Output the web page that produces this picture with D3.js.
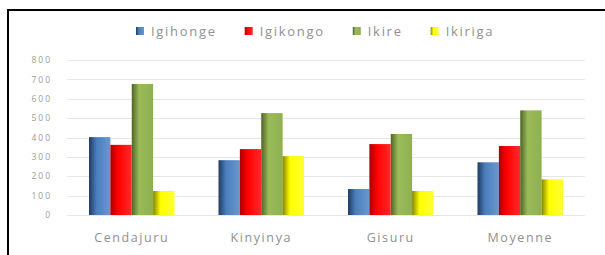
<!DOCTYPE html>
<html>
<head>
<meta charset="utf-8">
<script src="https://cdn.jsdelivr.net/npm/d3@7"></script>
<style>
  body { margin: 0; background: #fff; }
  svg { display: block; font-family: "Open Sans", "Noto Sans", sans-serif; }
</style>
</head>
<body>
<svg id="chart" width="605" height="255"></svg>
<script>
// data
var categories = ["Cendajuru", "Kinyinya", "Gisuru", "Moyenne"];
var seriesNames = ["Igihonge", "Igikongo", "Ikire", "Ikiriga"];
var igihonge = [402, 283, 134, 272];
var igikongo = [362, 340, 366, 356];
var ikire = [676, 526, 418, 540];
var ikiriga = [124, 304, 124, 184];
var yTicks = [0, 100, 200, 300, 400, 500, 600, 700, 800];

var seriesValues = [igihonge, igikongo, ikire, ikiriga];
// gradient stops per series: dark edge, main, light
var seriesColors = [
    ["#1f3a63", "#4a7ebb", "#6b97cf"],
    ["#a80000", "#ff0000", "#ff2a2a"],
    ["#4f6526", "#9bbb59", "#8fb04f"],
    ["#858500", "#ffff00", "#ffff33"]
];

var svg = d3.select("#chart");
var defs = svg.append("defs");

seriesColors.forEach(function (c, i) {
    var g = defs.append("linearGradient")
        .attr("id", "grad" + i)
        .attr("x1", "0%")
        .attr("y1", "0%")
        .attr("x2", "100%")
        .attr("y2", "0%");
    g.append("stop").attr("offset", "0%").attr("stop-color", c[0]);
    g.append("stop").attr("offset", "35%").attr("stop-color", c[1]);
    g.append("stop").attr("offset", "100%").attr("stop-color", c[2]);
});

// frame (only left and top edges visible)
svg.append("line")
    .attr("x1", 8).attr("y1", 10).attr("x2", 605).attr("y2", 10)
    .attr("stroke", "#000").attr("stroke-width", 2);
svg.append("line")
    .attr("x1", 8).attr("y1", 9).attr("x2", 8).attr("y2", 255)
    .attr("stroke", "#000").attr("stroke-width", 2);

var x0 = d3.scaleBand()
    .domain(categories)
    .range([67, 585])
    .paddingInner(0.34)
    .paddingOuter(0.17);

var x1 = d3.scaleBand()
    .domain(seriesNames)
    .range([0, x0.bandwidth()]);

var y = d3.scaleLinear()
    .domain([0, 800])
    .range([215, 60]);

// gridlines
svg.append("g")
    .selectAll("line")
    .data(yTicks)
    .join("line")
    .attr("x1", 67)
    .attr("x2", 585)
    .attr("y1", function (d) { return Math.round(y(d)) + 0.5; })
    .attr("y2", function (d) { return Math.round(y(d)) + 0.5; })
    .attr("stroke", "#e6e6e6")
    .attr("stroke-width", 1);

// y axis labels
var yAxis = d3.axisLeft(y)
    .tickValues(yTicks)
    .tickSize(0)
    .tickPadding(0)
    .tickFormat(d3.format("d"));

var yg = svg.append("g")
    .attr("transform", "translate(52,0)")
    .call(yAxis);
yg.select(".domain").remove();
yg.selectAll("text")
    .attr("font-size", 8.5)
    .attr("letter-spacing", 2)
    .attr("font-family", "\"Open Sans\", sans-serif")
    .attr("fill", "#9a9a9a");

// bars
var groups = svg.append("g")
    .selectAll("g")
    .data(categories)
    .join("g")
    .attr("transform", function (d) { return "translate(" + x0(d) + ",0)"; });

groups.selectAll("rect")
    .data(function (d, ci) {
        return seriesNames.map(function (s, si) {
            return { series: s, index: si, value: seriesValues[si][ci] };
        });
    })
    .join("rect")
    .attr("x", function (d) { return x1(d.series); })
    .attr("width", x1.bandwidth())
    .attr("y", function (d) { return y(d.value); })
    .attr("height", function (d) { return y(0) - y(d.value); })
    .attr("fill", function (d) { return "url(#grad" + d.index + ")"; });

// x axis labels
var xAxis = d3.axisBottom(x0)
    .tickSize(0)
    .tickPadding(0);

var xg = svg.append("g")
    .attr("transform", "translate(0,233)")
    .call(xAxis);
xg.select(".domain").remove();
xg.selectAll("text")
    .attr("font-size", 12.5)
    .attr("letter-spacing", 1.6)
    .attr("font-family", "\"Open Sans\", sans-serif")
    .attr("fill", "#909090");

// legend
var legend = svg.append("g").attr("transform", "translate(0,31)");
var lx = 136;
seriesNames.forEach(function (name, i) {
    var item = legend.append("g").attr("transform", "translate(" + lx + ",0)");
    item.append("rect")
        .attr("x", 0)
        .attr("y", -4)
        .attr("width", 8)
        .attr("height", 8)
        .attr("fill", "url(#grad" + i + ")");
    var t = item.append("text")
        .attr("x", 15)
        .attr("y", 0)
        .attr("dy", "0.35em")
        .attr("font-size", 13)
        .attr("letter-spacing", 1.7)
        .attr("font-family", "\"Open Sans\", sans-serif")
        .attr("fill", "#909090")
        .text(name);
    lx += 15 + t.node().getComputedTextLength() + 28;
});
</script>
</body>
</html>
